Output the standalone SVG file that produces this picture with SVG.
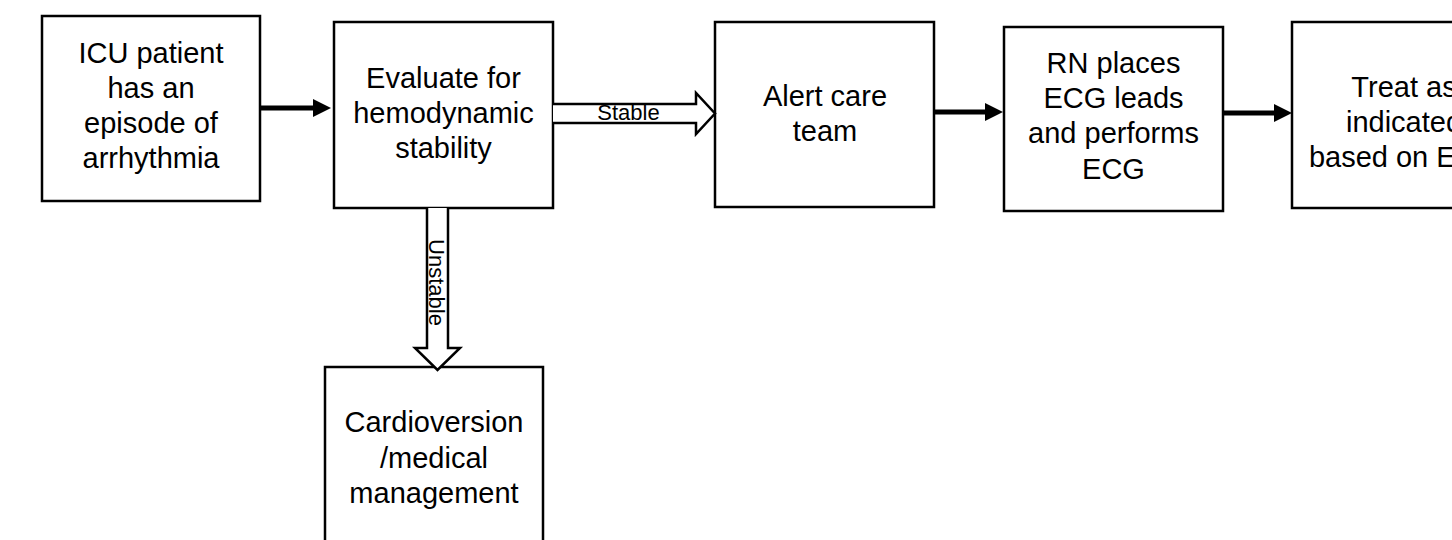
<svg xmlns="http://www.w3.org/2000/svg" width="1452" height="540" viewBox="0 0 1452 540">
<style>
.box{fill:#fff;stroke:#000;stroke-width:2.5}
.t{font-family:"Liberation Sans",Arial,sans-serif;font-size:29px;fill:#000;text-anchor:middle}
.lbl{font-family:"Liberation Sans",Arial,sans-serif;font-size:22px;fill:#000;text-anchor:middle}
.thick{stroke:#000;stroke-width:5;fill:none}
.hollow{fill:#fff;stroke:#000;stroke-width:2.5;stroke-linejoin:miter}
</style>
<defs>
<marker id="ah" viewBox="0 0 18 18" refX="0" refY="9" markerWidth="18" markerHeight="18" markerUnits="userSpaceOnUse" orient="auto">
<path d="M0,0 L18,9 L0,18 z" fill="#000"/>
</marker>
</defs>
<rect width="1452" height="540" fill="#fff"/>
<g id="n1">
<rect class="box" x="42" y="16" width="218" height="185"/>
<text class="t" x="151" y="63">ICU patient</text>
<text class="t" x="151" y="98">has an</text>
<text class="t" x="151" y="133">episode of</text>
<text class="t" x="151" y="168">arrhythmia</text>
</g>
<g id="n2">
<rect class="box" x="334" y="22" width="219" height="186"/>
<text class="t" x="443.5" y="88">Evaluate for</text>
<text class="t" x="443.5" y="123">hemodynamic</text>
<text class="t" x="443.5" y="158">stability</text>
</g>
<g id="n3">
<rect class="box" x="715" y="22" width="219" height="185"/>
<text class="t" x="825" y="106">Alert care</text>
<text class="t" x="825" y="141">team</text>
</g>
<g id="n4">
<rect class="box" x="1004" y="27" width="219" height="184"/>
<text class="t" x="1113.5" y="73">RN places</text>
<text class="t" x="1113.5" y="108">ECG leads</text>
<text class="t" x="1113.5" y="143">and performs</text>
<text class="t" x="1113.5" y="179">ECG</text>
</g>
<g id="n5">
<rect class="box" x="1292" y="22" width="220" height="186"/>
<text class="t" x="1404" y="97">Treat as</text>
<text class="t" x="1404" y="132">indicated</text>
<text class="t" x="1404" y="167">based on ECG</text>
</g>
<g id="n6">
<rect class="box" x="325" y="367" width="218" height="186"/>
<text class="t" x="434" y="432">Cardioversion</text>
<text class="t" x="434" y="468">/medical</text>
<text class="t" x="434" y="503">management</text>
</g>
<g id="connectors">
<line class="thick" x1="261" y1="108" x2="313" y2="108" marker-end="url(#ah)"/>
<line class="thick" x1="935" y1="112" x2="985" y2="112" marker-end="url(#ah)"/>
<line class="thick" x1="1224" y1="113" x2="1274" y2="113" marker-end="url(#ah)"/>
<path class="hollow" d="M553,104 H696 V93 L715,113.5 L696,134 V123 H553"/>
<text class="lbl" x="628.5" y="120">Stable</text>
<path class="hollow" d="M427,208 V348 H415 L437.5,370 L460,348 H448 V208"/>
<text class="lbl" transform="translate(429,282.5) rotate(90)" x="0" y="0">Unstable</text>
</g>
</svg>
